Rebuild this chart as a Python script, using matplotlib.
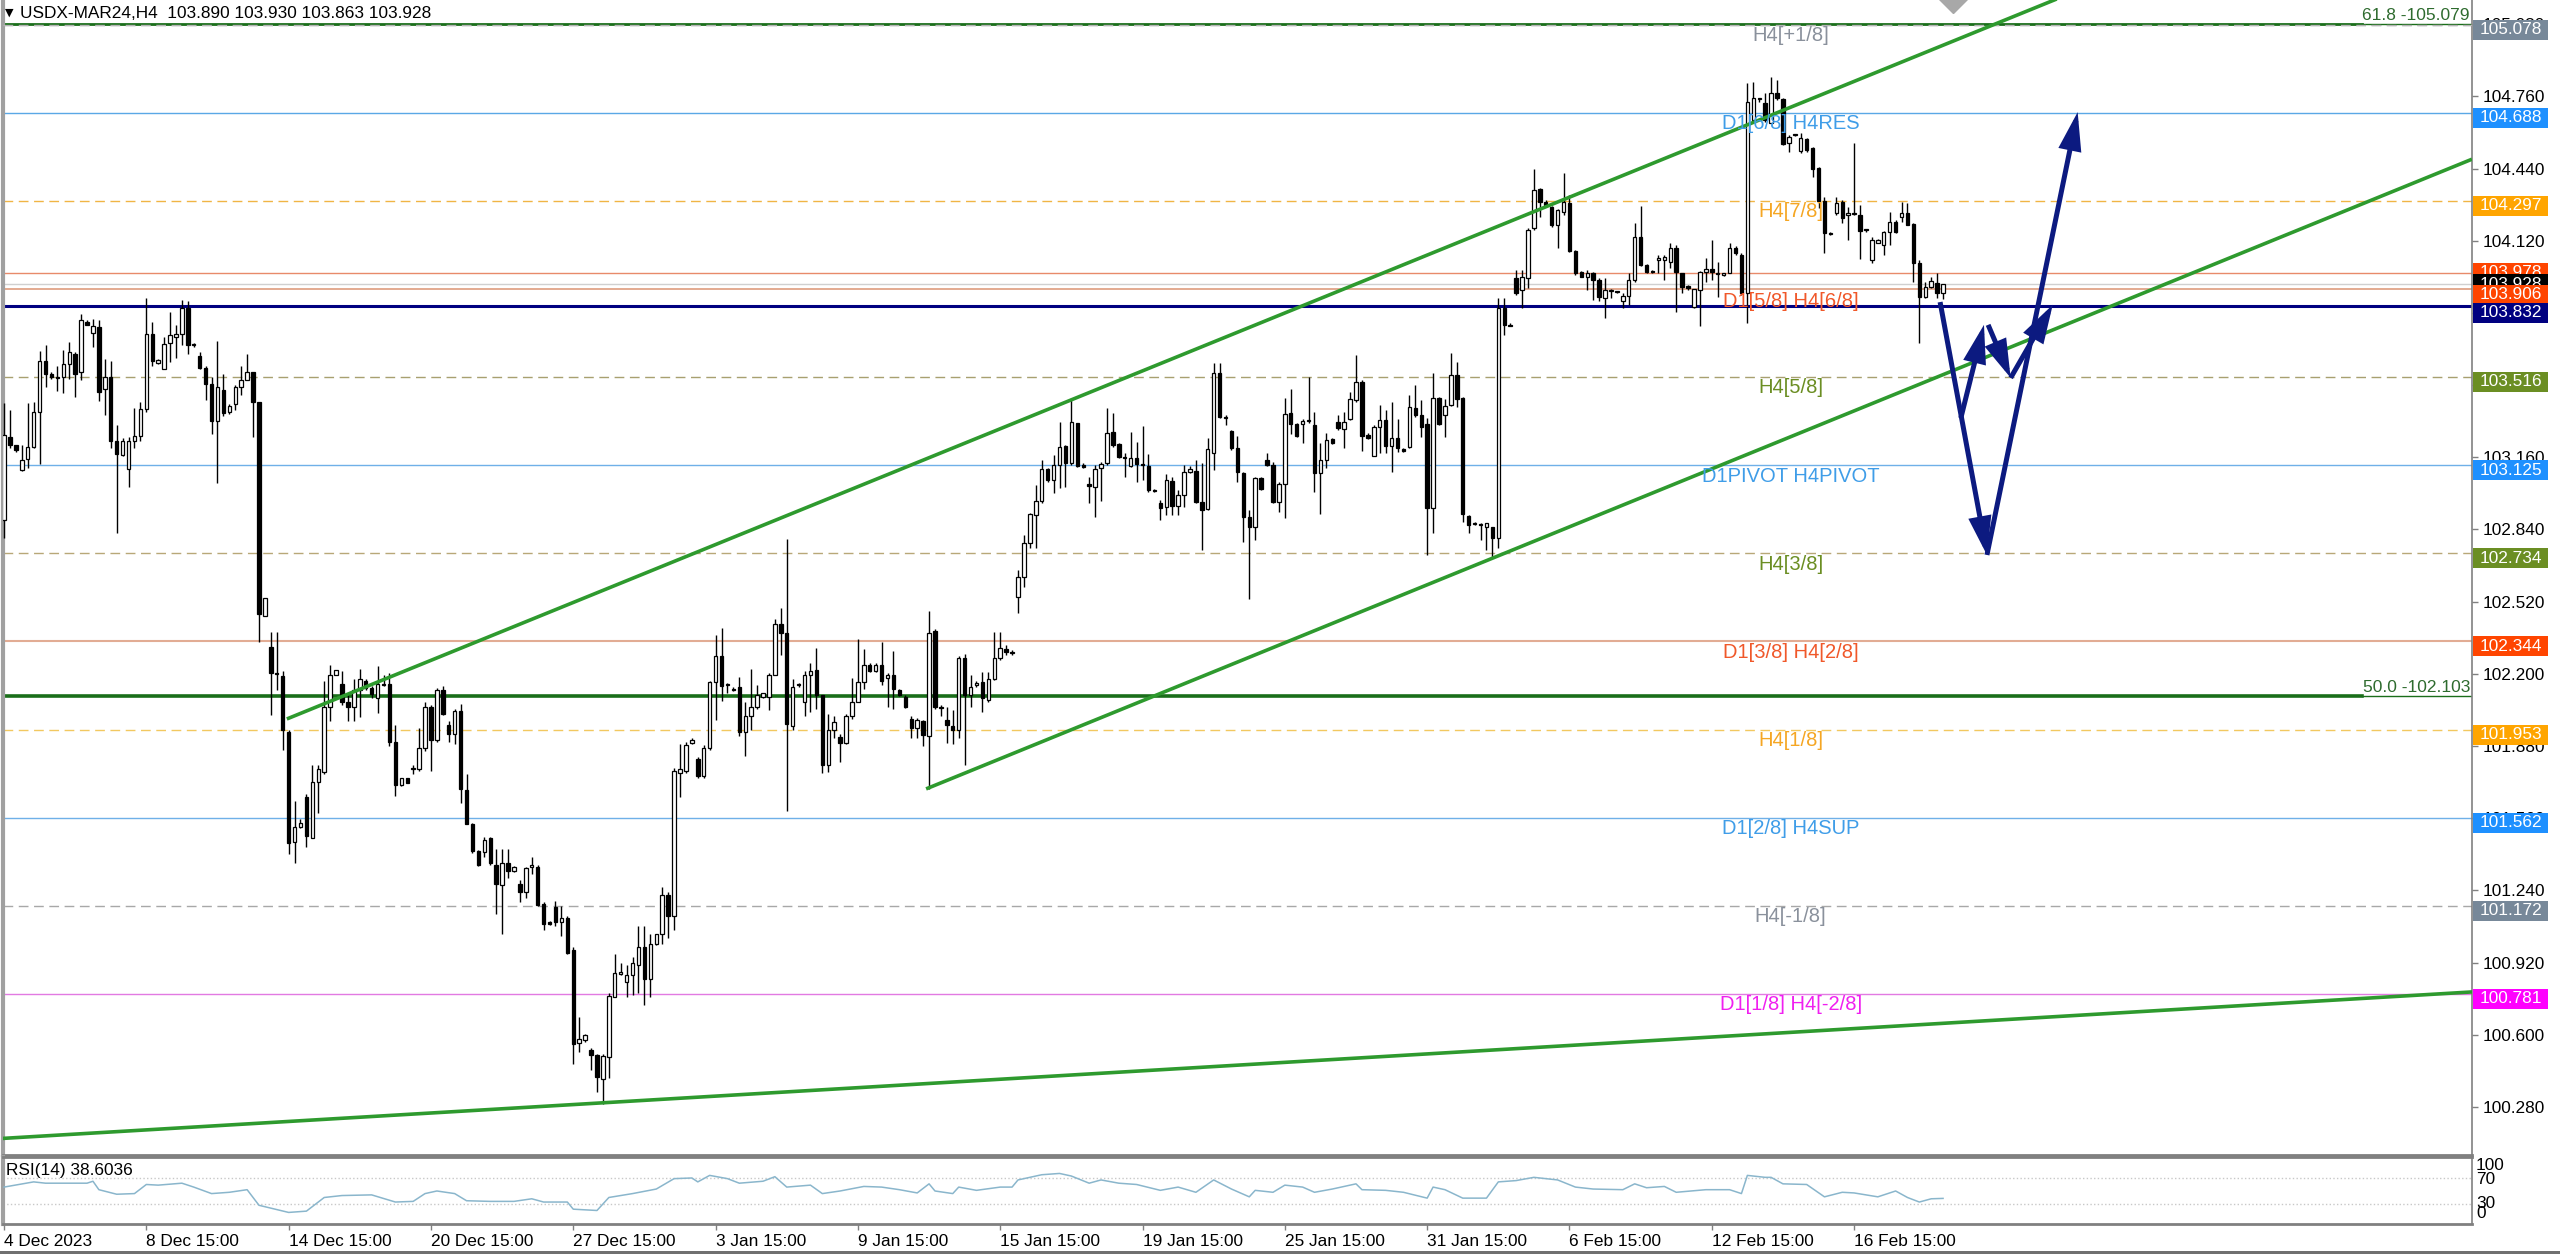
import matplotlib
matplotlib.use('Agg')
import matplotlib.pyplot as plt
from matplotlib.transforms import IdentityTransform
from matplotlib.patches import Rectangle, FancyArrowPatch
import numpy as np

plt.rcParams['font.family'] = ['Liberation Sans', 'DejaVu Sans']

# ---------------- data ----------------
opens = [
 102.88,103.250,103.213,103.102,103.153,103.204,103.361,103.587,103.531,103.514,
 103.514,103.573,103.619,103.539,103.761,103.710,103.737,103.463,103.514,103.230,
 103.170,103.109,103.233,103.254,103.375,103.706,103.579,103.553,103.667,103.693,
 103.706,103.820,103.662,103.611,103.556,103.485,103.322,103.460,103.361,103.395,
 103.471,103.502,103.536,103.407,102.456,102.318,102.204,102.191,101.944,101.453,
 101.519,101.652,101.473,101.720,101.766,102.051,102.193,102.153,102.077,102.051,
 102.128,102.170,102.136,102.094,102.153,102.153,101.898,101.706,101.737,101.779,
 101.779,101.873,102.055,101.907,102.128,101.975,101.932,102.034,101.686,101.533,
 101.414,101.411,101.472,101.354,101.263,101.363,101.328,101.267,101.235,101.346,
 101.346,101.179,101.100,101.165,101.101,101.118,100.974,100.563,100.579,100.531,
 100.510,100.405,100.500,100.768,100.870,100.833,100.864,100.908,100.990,100.847,
 101.004,101.048,101.218,101.127,101.761,101.770,101.894,101.824,101.745,101.871,
 102.164,102.277,102.151,102.134,102.143,101.941,102.015,102.051,102.099,102.099,
 102.195,102.423,102.379,101.967,102.151,102.076,102.195,102.216,102.104,101.796,
 101.953,101.918,101.894,102.011,102.073,102.164,102.239,102.213,102.239,102.181,
 102.195,102.129,102.099,102.002,101.962,101.990,101.924,102.388,102.052,101.997,
 101.967,101.953,102.269,102.104,102.150,102.165,102.084,102.176,102.269,102.309,
 102.298,102.542,102.631,102.778,102.904,102.967,103.106,103.059,103.126,103.210,
 103.133,103.310,103.126,103.041,103.030,103.111,103.133,103.270,103.219,103.160,
 103.121,103.158,103.130,103.121,103.013,102.959,102.938,103.056,102.944,102.993,
 103.096,103.100,102.963,102.930,103.180,103.532,103.337,103.278,103.199,103.092,
 102.894,102.849,103.067,103.148,103.126,102.963,103.041,103.358,103.307,103.307,
 103.319,103.301,103.089,103.148,103.239,103.318,103.284,103.328,103.414,103.495,
 103.260,103.166,103.293,103.325,103.210,103.244,103.195,103.207,103.377,103.347,
 103.306,102.934,103.421,103.347,103.392,103.525,103.421,102.900,102.865,102.862,
 102.852,102.852,102.801,103.820,103.748,103.953,103.901,103.953,104.175,104.348,
 104.293,104.271,104.190,104.249,104.289,104.076,103.983,103.961,103.978,103.946,
 103.865,103.899,103.896,103.854,103.875,103.946,104.138,104.012,103.983,104.034,
 104.034,104.027,104.086,103.975,103.919,103.828,103.901,103.983,103.993,103.972,
 103.968,103.978,104.086,104.057,103.887,104.655,104.747,104.732,104.643,104.776,
 104.747,104.552,104.589,104.519,104.569,104.529,104.441,104.297,104.153,104.241,
 104.293,104.234,104.238,104.234,104.167,104.034,104.111,104.101,104.160,104.204,
 104.227,104.244,104.194,104.023,103.869,103.916,103.934,103.890]
highs = [
 103.40,103.369,103.216,103.216,103.400,103.403,103.633,103.659,103.540,103.565,
 103.636,103.670,103.625,103.795,103.769,103.772,103.769,103.596,103.585,103.301,
 103.247,103.250,103.378,103.403,103.868,103.761,103.596,103.693,103.803,103.747,
 103.859,103.854,103.667,103.625,103.565,103.514,103.676,103.531,103.395,103.480,
 103.565,103.616,103.536,103.407,102.536,102.386,102.386,102.213,101.953,101.635,
 101.558,101.669,101.796,101.796,102.170,102.238,102.216,102.213,102.111,102.179,
 102.221,102.179,102.145,102.233,102.196,102.204,101.975,101.737,101.737,101.796,
 101.958,102.077,102.060,102.136,102.145,101.992,102.046,102.068,101.754,101.541,
 101.420,101.477,101.477,101.425,101.425,101.425,101.350,101.284,101.346,101.389,
 101.354,101.188,101.105,101.193,101.171,101.127,100.987,100.680,100.605,100.540,
 100.514,100.514,100.785,100.960,100.917,100.908,100.943,101.083,101.083,101.048,
 101.048,101.253,101.232,101.784,101.889,101.897,101.915,101.831,101.883,102.169,
 102.370,102.402,102.160,102.143,102.186,102.073,102.221,102.151,102.117,102.204,
 102.444,102.493,102.799,102.178,102.160,102.213,102.248,102.314,102.104,102.020,
 102.011,101.932,102.020,102.181,102.356,102.309,102.248,102.248,102.339,102.204,
 102.300,102.135,102.108,102.011,102.005,101.997,102.479,102.397,102.060,102.055,
 102.038,102.277,102.290,102.195,102.170,102.209,102.210,102.387,102.387,102.328,
 102.305,102.660,102.815,102.914,103.037,103.148,103.111,103.170,103.318,103.214,
 103.421,103.313,103.133,103.074,103.126,103.140,103.377,103.355,103.225,103.180,
 103.273,103.229,103.298,103.174,103.018,102.970,103.086,103.074,103.015,103.126,
 103.121,103.148,103.133,103.244,103.579,103.576,103.347,103.281,103.254,103.096,
 102.926,103.074,103.074,103.180,103.140,103.052,103.421,103.461,103.310,103.328,
 103.514,103.362,103.222,103.266,103.244,103.347,103.362,103.451,103.613,103.502,
 103.266,103.303,103.392,103.369,103.406,103.328,103.199,103.436,103.480,103.414,
 103.332,103.532,103.428,103.417,103.624,103.584,103.428,102.904,102.874,102.867,
 102.867,102.852,103.865,103.865,103.754,103.990,103.990,104.175,104.436,104.352,
 104.300,104.274,104.259,104.419,104.323,104.079,103.987,103.990,103.983,103.953,
 103.953,103.904,103.899,103.887,103.975,104.197,104.274,104.017,103.990,104.057,
 104.057,104.108,104.101,103.975,103.923,103.904,103.987,104.042,104.123,104.027,
 103.975,104.108,104.097,104.064,104.818,104.825,104.751,104.773,104.847,104.832,
 104.751,104.589,104.594,104.596,104.574,104.534,104.448,104.315,104.160,104.315,
 104.300,104.271,104.552,104.278,104.170,104.138,104.127,104.165,104.249,104.211,
 104.293,104.285,104.200,104.034,103.938,103.961,103.978,103.930]
lows = [
 102.80,103.199,103.183,103.097,103.114,103.199,103.131,103.471,103.509,103.454,
 103.443,103.509,103.429,103.502,103.745,103.650,103.409,103.349,103.199,102.825,
 103.165,103.029,103.199,103.233,103.361,103.565,103.573,103.553,103.582,103.599,
 103.659,103.616,103.650,103.553,103.412,103.262,103.046,103.341,103.352,103.369,
 103.437,103.502,103.250,102.340,102.456,102.017,102.128,101.864,101.400,101.363,
 101.516,101.431,101.473,101.584,101.754,101.992,102.193,102.060,101.992,101.992,
 102.009,102.128,102.094,102.026,102.145,101.881,101.660,101.703,101.715,101.754,
 101.771,101.856,101.771,101.898,102.017,101.898,101.890,101.626,101.533,101.405,
 101.350,101.389,101.354,101.136,101.048,101.293,101.320,101.188,101.206,101.311,
 101.171,101.066,101.085,101.083,101.039,100.960,100.470,100.523,100.570,100.444,
 100.348,100.295,100.409,100.768,100.864,100.768,100.777,100.785,100.733,100.768,
 101.000,101.004,101.030,101.066,101.652,101.761,101.889,101.740,101.740,101.862,
 101.994,102.081,102.116,102.125,101.924,101.836,101.950,102.046,102.095,102.038,
 102.195,102.283,101.591,101.950,102.140,102.011,102.029,102.046,101.761,101.766,
 101.915,101.810,101.889,102.002,102.073,102.134,102.210,102.210,102.151,102.055,
 102.046,102.100,102.050,101.915,101.915,101.880,101.691,102.046,102.013,101.894,
 101.889,101.915,101.796,102.054,102.140,102.032,102.077,102.172,102.261,102.283,
 102.283,102.468,102.586,102.756,102.756,102.956,103.052,103.000,103.022,103.030,
 103.126,103.118,103.111,102.956,102.897,102.967,103.126,103.207,103.155,103.074,
 103.118,103.052,103.059,103.008,103.008,102.882,102.904,102.904,102.904,102.941,
 103.089,102.956,102.749,102.926,103.103,103.332,103.303,103.192,103.052,102.786,
 102.530,102.793,103.015,103.121,102.956,102.919,102.892,103.263,103.251,103.222,
 103.310,103.008,102.907,103.111,103.219,103.281,103.199,103.325,103.406,103.189,
 103.239,103.166,103.177,103.177,103.096,103.185,103.185,103.199,103.340,103.251,
 102.727,102.823,103.303,103.251,103.387,103.384,102.874,102.823,102.860,102.793,
 102.749,102.712,102.756,103.702,103.740,103.879,103.820,103.909,104.167,104.227,
 104.271,104.182,104.086,104.234,104.071,103.968,103.958,103.901,103.857,103.854,
 103.776,103.865,103.890,103.820,103.835,103.938,104.008,103.978,103.975,103.975,
 103.946,103.998,103.805,103.887,103.901,103.820,103.742,103.938,103.946,103.872,
 103.965,103.975,104.057,103.879,103.754,104.640,104.736,104.648,104.640,104.744,
 104.544,104.515,104.585,104.507,104.515,104.404,104.264,104.064,104.145,104.234,
 104.200,104.123,104.234,104.037,104.160,104.020,104.108,104.057,104.101,104.155,
 104.204,104.190,103.938,103.665,103.865,103.909,103.865,103.863]
closes = [
 103.26,103.213,103.191,103.148,103.204,103.361,103.587,103.531,103.514,103.512,
 103.573,103.625,103.531,103.769,103.747,103.740,103.451,103.514,103.230,103.174,
 103.233,103.233,103.254,103.375,103.706,103.585,103.590,103.662,103.701,103.706,
 103.820,103.659,103.659,103.556,103.485,103.322,103.471,103.358,103.386,103.471,
 103.502,103.539,103.407,102.465,102.536,102.204,102.200,101.953,101.448,101.519,
 101.541,101.482,101.720,101.779,102.051,102.196,102.216,102.077,102.051,102.128,
 102.179,102.136,102.111,102.153,102.150,101.898,101.706,101.737,101.715,101.777,
 101.873,102.051,101.907,102.128,102.021,101.932,102.034,101.689,101.533,101.414,
 101.354,101.463,101.363,101.267,101.363,101.328,101.346,101.232,101.341,101.354,
 101.176,101.092,101.092,101.101,101.118,100.964,100.558,100.580,100.601,100.510,
 100.414,100.505,100.771,100.873,100.880,100.864,100.917,100.987,100.847,101.001,
 101.048,101.218,101.127,101.770,101.778,101.883,101.906,101.745,101.871,102.164,
 102.277,102.146,102.150,102.130,101.941,102.015,102.055,102.104,102.113,102.195,
 102.423,102.383,101.976,102.143,102.150,102.195,102.213,102.104,101.796,101.953,
 101.988,101.894,102.011,102.076,102.164,102.239,102.213,102.239,102.169,102.195,
 102.134,102.108,102.055,101.958,101.997,101.927,102.379,102.052,102.050,101.973,
 101.953,102.269,102.104,102.143,102.160,102.091,102.176,102.272,102.313,102.298,
 102.291,102.631,102.778,102.907,102.967,103.106,103.059,103.126,103.207,103.133,
 103.315,103.121,103.115,103.034,103.106,103.130,103.266,103.214,103.160,103.158,
 103.158,103.130,103.126,103.015,103.010,102.934,103.059,102.944,102.993,103.096,
 103.106,102.963,102.926,103.195,103.532,103.337,103.335,103.199,103.096,102.897,
 102.849,103.069,103.018,103.126,102.963,103.041,103.350,103.307,103.254,103.322,
 103.320,103.089,103.148,103.236,103.222,103.288,103.318,103.417,103.495,103.254,
 103.244,103.293,103.325,103.210,103.244,103.199,103.189,103.381,103.347,103.295,
 102.934,103.421,103.307,103.387,103.525,103.417,102.907,102.860,102.867,102.860,
 102.867,102.801,103.820,103.746,103.744,103.887,103.961,104.167,104.345,104.293,
 104.278,104.190,104.256,104.293,104.076,103.975,103.961,103.975,103.946,103.869,
 103.901,103.900,103.894,103.875,103.946,104.138,104.012,103.983,103.981,104.042,
 104.046,104.086,103.983,103.916,103.909,103.904,103.983,103.993,103.983,103.978,
 103.975,104.086,104.064,103.887,104.736,104.751,104.748,104.655,104.776,104.751,
 104.549,104.581,104.590,104.574,104.522,104.436,104.297,104.153,104.150,104.289,
 104.219,104.241,104.239,104.165,104.166,104.123,104.123,104.160,104.204,104.160,
 104.241,104.190,104.020,103.869,103.916,103.943,103.890,103.928]

rsi_bar = [0,5,7,14,15,16,19,22,24,26,30,32,35,38,41,43,48,51,54,57,
           62,66,69,71,73,76,78,82,86,89,91,95,96,100,102,106,110,113,116,117,
           119,122,124,128,130,132,136,138,141,145,148,151,154,156,157,160,161,164,168,170,
           171,175,178,180,183,185,188,191,195,198,201,204,207,210,211,214,216,219,221,224,
           228,229,233,236,240,241,243,246,250,252,255,258,262,265,268,273,275,277,280,282,
           287,291,293,294,297,298,300,304,307,310,312,316,319,321,323,325,327]
rsi_val = [56,64,62,62,65,52,45,46,60,59,62,56,46,48,52,28,17,19,40,43,
           44,33,34,46,50,46,35,34,34,38,33,33,22,20,40,46,53,69,70,64,
           74,69,62,65,72,56,59,46,50,57,56,52,47,61,50,46,56,51,56,56,
           67,75,77,73,62,67,62,60,51,56,48,67,53,41,51,48,59,56,48,53,
           61,52,51,48,39,56,52,39,39,64,66,71,67,56,53,52,61,55,57,48,
           52,52,46,74,71,71,61,60,41,48,47,41,50,40,33,38,38.6]

x_tick_bars = [0, 24, 48, 72, 96, 120, 144, 168, 192, 216, 240, 264, 288, 312]
x_tick_labels = ['4 Dec 2023', '8 Dec 15:00', '14 Dec 15:00', '20 Dec 15:00',
                 '27 Dec 15:00', '3 Jan 15:00', '9 Jan 15:00', '15 Jan 15:00',
                 '19 Jan 15:00', '25 Jan 15:00', '31 Jan 15:00', '6 Feb 15:00',
                 '12 Feb 15:00', '16 Feb 15:00']
price_ticks = [100.280, 100.600, 100.920, 101.240, 101.560, 101.880, 102.200, 102.520,
               102.840, 103.160, 103.480, 103.800, 104.120, 104.440, 104.760, 105.080]

level_prices = [105.078, 104.688, 104.297, 103.978, 103.928, 103.906, 103.832, 103.516,
                103.125, 102.734, 102.344, 101.953, 101.562, 101.172, 100.781]
level_names = ['H4[+1/8]', 'D1[6/8] H4RES', 'H4[7/8]', '', '', 'D1[5/8] H4[6/8]', '',
               'H4[5/8]', 'D1PIVOT H4PIVOT', 'H4[3/8]', 'D1[3/8] H4[2/8]', 'H4[1/8]',
               'D1[2/8] H4SUP', 'H4[-1/8]', 'D1[1/8] H4[-2/8]']
fib_pcts = ['61.8', '50.0']
fib_prices = [105.079, 102.103]

# trend lines: (bar, price) anchor pairs
upper_channel = [(47.7, 102.00), (245.5, 104.115)]
lower_channel = [(155.5, 101.69), (248.9, 102.69)]
long_support = [(-0.7, 100.14), (416.2, 100.79)]

# forecast arrows: (bar, price) start -> end
forecast_arrows = [
    ((326.5, 103.848), (334.4, 102.727)),
    ((334.4, 102.727), (349.7, 104.690)),
    ((330.0, 103.334), (333.9, 103.747)),
    ((334.6, 103.747), (338.4, 103.512)),
    ((338.4, 103.512), (345.5, 103.836)),
]

ohlc_title = 'USDX-MAR24,H4  103.890 103.930 103.863 103.928'
rsi_title = 'RSI(14) 38.6036'

# ---------------- styles ----------------
W, H = 2560, 1254
line_style = {
    105.078: dict(color='#b4b4b4', lw=1.0, ls=(0, (7, 4))),
    104.688: dict(color='#5aa8e6', lw=1.0, ls='-'),
    104.297: dict(color='#f0b545', lw=1.0, ls=(0, (7, 4))),
    103.978: dict(color='#e88a6a', lw=1.0, ls='-'),
    103.928: dict(color='#d0d0d0', lw=1.0, ls='-'),
    103.906: dict(color='#e0a488', lw=1.3, ls='-'),
    103.832: dict(color='#000080', lw=2.2, ls='-'),
    103.516: dict(color='#a8a070', lw=1.0, ls=(0, (7, 4))),
    103.125: dict(color='#6fb0e8', lw=1.0, ls='-'),
    102.734: dict(color='#b8a878', lw=1.0, ls=(0, (7, 4))),
    102.344: dict(color='#e2ac94', lw=1.5, ls='-'),
    101.953: dict(color='#f2c860', lw=1.0, ls=(0, (7, 4))),
    101.562: dict(color='#6fb0e8', lw=1.0, ls='-'),
    101.172: dict(color='#a8a8a8', lw=1.0, ls=(0, (7, 4))),
    100.781: dict(color='#e27ae2', lw=1.0, ls='-'),
}
box_color = {105.078: '#778899', 104.688: '#1e90ff', 104.297: '#ffa500', 103.978: '#ff4500',
             103.928: '#000000', 103.906: '#ff4500', 103.832: '#000080', 103.516: '#6b8e23',
             103.125: '#1e90ff', 102.734: '#6b8e23', 102.344: '#ff4500', 101.953: '#ffa500',
             101.562: '#1e90ff', 101.172: '#778899', 100.781: '#ff00ff'}
box_offset = {103.978: 0, 103.928: 0, 103.906: 6, 103.832: 7}
text_color = {105.078: '#8a919c', 104.688: '#3f9de8', 104.297: '#f5a623', 103.906: '#f0582a',
              103.516: '#6b8e23', 103.125: '#3f9de8', 102.734: '#6b8e23', 102.344: '#f0582a',
              101.953: '#f5a623', 101.562: '#3f9de8', 101.172: '#8a919c', 100.781: '#f020f0'}
text_offset = {103.906: 13}

fig = plt.figure(figsize=(W / 100, H / 100), dpi=100)
fig.patch.set_facecolor('white')
ax = fig.add_axes([3 / W, 1 - 1155 / H, 2469 / W, 1155 / H])
axr = fig.add_axes([3 / W, 1 - 1224 / H, 2469 / W, 67 / H])

XL = (-0.17, 416.2)
ax.set_xlim(*XL)
ax.set_ylim(100.0672, 105.1869)
axr.set_xlim(*XL)
axr.set_ylim(-0.8, 102.3)

# candles
o = np.array(opens); hh = np.array(highs); ll = np.array(lows); c = np.array(closes)
xs = np.arange(len(o))
up = c >= o
ax.vlines(xs, ll, hh, color='black', lw=1.0, zorder=3)
bb = np.minimum(o, c)
bh = np.maximum(np.abs(c - o), 0.004)
ax.bar(xs[up], bh[up], bottom=bb[up], width=0.58, color='white', edgecolor='black',
       linewidth=0.9, zorder=4)
ax.bar(xs[~up], bh[~up], bottom=bb[~up], width=0.58, color='black', edgecolor='black',
       linewidth=0.9, zorder=4)

# horizontal levels
for p in level_prices:
    st = line_style[p]
    ax.axhline(p, color=st['color'], lw=st['lw'], ls=st['ls'], zorder=2)

# fib levels (thick green up to label, thin after)
for pct, p in zip(fib_pcts, fib_prices):
    lw = 2.6 if p < 105 else 2.0
    ax.axhline(p, xmin=0, xmax=0.9555, color='#1a6e1a', lw=lw, zorder=2.5)
    ax.axhline(p, xmin=0.9555, xmax=1, color='#1a6e1a', lw=1.0, zorder=2.5)
    ax.annotate(f'{pct} -{p:.3f}', xy=(1, p), xycoords=('axes fraction', 'data'),
                xytext=(-2, 1), textcoords='offset pixels', ha='right', va='bottom',
                fontsize=12.5, color='#2e6b2e', zorder=6)
st = line_style[105.078]
ax.axhline(105.078, color=st['color'], lw=1.0, ls=st['ls'], zorder=2.7)

# trend lines (rays extended to the right edge)
def ray(pts, **kw):
    (x1, y1), (x2, y2) = pts
    s = (y2 - y1) / (x2 - x1)
    xe = XL[1]
    ax.plot([x1, xe], [y1, y1 + s * (xe - x1)], **kw)

green = dict(color='#2e9a2e', lw=2.6, zorder=6, solid_capstyle='butt')
ray(upper_channel, **green)
ray(lower_channel, **green)
ray(long_support, **green)

# level name labels
for p, name in zip(level_prices, level_names):
    if not name:
        continue
    off = text_offset.get(p, 11)
    ax.annotate(name, xy=(301.3, p), xycoords='data', xytext=(0, -off),
                textcoords='offset pixels', ha='center', va='center',
                fontsize=14.5, color=text_color[p], zorder=7)

# forecast arrows
navy = '#0c1a80'
for (s0, s1) in forecast_arrows:
    arr = FancyArrowPatch(s0, s1, arrowstyle='-|>,head_length=1.0,head_width=0.3',
                          mutation_scale=20, color=navy, lw=3.6, zorder=9,
                          shrinkA=0, shrinkB=0, joinstyle='miter', capstyle='butt')
    ax.add_patch(arr)

# gray marker at the top edge
ax.plot([328.7], [105.2], marker='D', ms=16, color='#a8a8a8', zorder=8, clip_on=True)

# axes styling
for a in (ax, axr):
    a.set_facecolor('white')
    a.spines['top'].set_visible(False)
    a.spines['left'].set_color('#a0a0a0'); a.spines['left'].set_linewidth(3)
    a.spines['right'].set_color('#808080'); a.spines['right'].set_linewidth(1.2)
    a.spines['bottom'].set_color('#808080'); a.spines['bottom'].set_linewidth(2)
axr.spines['top'].set_visible(True)
axr.spines['top'].set_color('#808080'); axr.spines['top'].set_linewidth(2)

ax.set_xticks([])
ax.yaxis.tick_right()
ax.set_yticks(price_ticks)
ax.set_yticklabels([f'{t:.3f}' for t in price_ticks])
ax.tick_params(axis='y', length=4, width=1, color='#808080', pad=4, labelsize=12.4,
               labelcolor='black')

# RSI panel
axr.axhline(70, color='#c8c8c8', lw=1.0, ls=':', zorder=1)
axr.axhline(30, color='#c8c8c8', lw=1.0, ls=':', zorder=1)
axr.plot(rsi_bar, rsi_val, color='#8ab6cc', lw=1.1, zorder=3)
axr.set_yticks([])
axr.set_xticks(x_tick_bars)
axr.set_xticklabels(x_tick_labels)
axr.tick_params(axis='x', direction='out', length=4, width=1, color='#808080', pad=3,
                labelsize=12.4)
for lab in axr.get_xticklabels():
    lab.set_ha('left')
for val, ypx in zip(['100', '70', '30', '0'], [1166, 1180, 1204, 1213]):
    fig.text(2476 / W, 1 - ypx / H, val, ha='left', va='center', fontsize=12.4)

fig.text(6 / W, 1 - 1171 / H, rsi_title, ha='left', va='center', fontsize=12.4)
fig.text(5 / W, 1 - 13 / H, '\u25bc', ha='left', va='center', fontsize=8,
         family='DejaVu Sans')
fig.text(20 / W, 1 - 13 / H, ohlc_title, ha='left', va='center', fontsize=12.4)

# price boxes on the right axis
idt = IdentityTransform()
z = 10
for p in level_prices:
    yc = ax.transData.transform((0, p))[1] - box_offset.get(p, 5)
    fig.add_artist(Rectangle((2473, yc - 10), 75, 20, transform=idt,
                             facecolor=box_color[p], edgecolor='none', zorder=z))
    fig.text(2480 / W, yc / H, f'{p:.3f}', ha='left', va='center', fontsize=12.4,
             color='white', zorder=z + 1)
    z += 2

# bottom window border
fig.add_artist(Rectangle((0, 0), W, 3, transform=idt, facecolor='#707070',
                         edgecolor='none', zorder=50))

fig.savefig('out.png', dpi=100)
